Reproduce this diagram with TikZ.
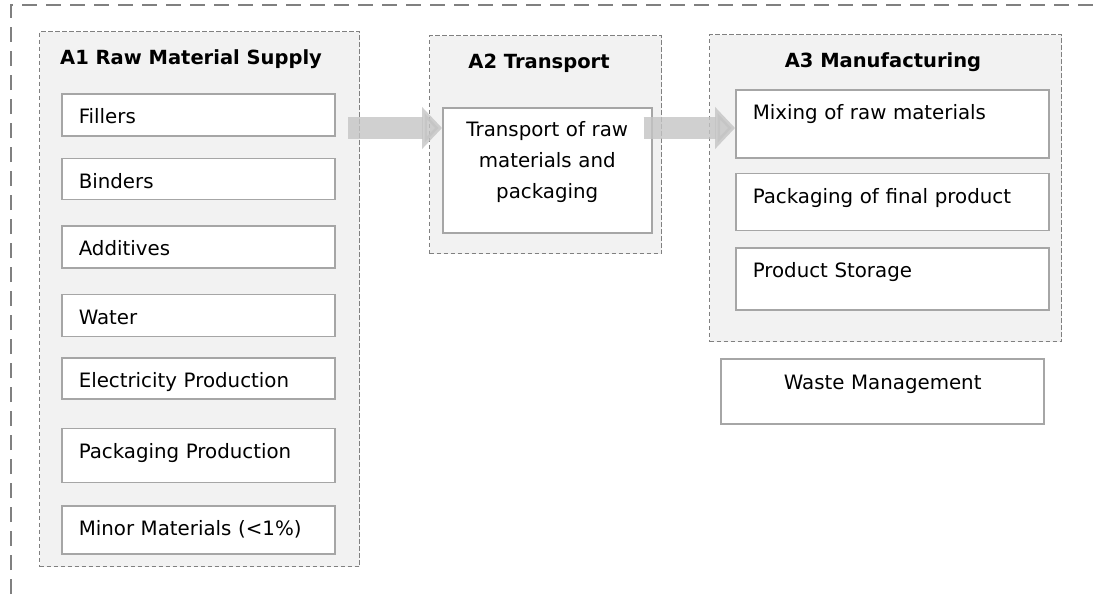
\documentclass[tikz,border=0pt]{standalone}
\usepackage{fontspec}
\setmainfont{DejaVu Sans}
\usetikzlibrary{positioning, calc, arrows.meta}
\definecolor{grpfill}{HTML}{F2F2F2}
\definecolor{grpline}{HTML}{808080}
\definecolor{boxline}{HTML}{A6A6A6}
\definecolor{flowgray}{HTML}{C4C4C4}
\tikzset{
  frame/.style={draw=grpline, line width=1.3pt, dash pattern=on 15pt off 9pt},
  group/.style={draw=grpline, fill=grpfill, line width=1.3pt,
    dash pattern=on 4.5pt off 2.5pt, inner sep=0pt, anchor=north west},
  grouptitle/.style={font=\bfseries\fontsize{19.5}{23}\selectfont, inner sep=0pt},
  item/.style={draw=boxline, fill=white, line width=1.5pt,
    font=\fontsize{19.8}{31}\selectfont, inner xsep=17pt, inner ysep=0pt,
    text height=30pt, text depth=#1, align=left},
  a1item/.style={item=#1, text width=239pt},
  a3item/.style={item=#1, text width=279pt},
  flow/.style={draw=flowgray, opacity=.8, line width=22pt,
    -{Triangle[length=20pt, width=41pt]}}
}
\begin{document}
\begin{tikzpicture}[x=1pt, y=-1pt]
  \useasboundingbox (0,0) rectangle (1097,594);
  \draw[frame] (11,594) |- (1097,5);

  % A1 raw material supply
  \node[group, minimum width=320pt, minimum height=535pt] (a1) at (39,31) {};
  \node[grouptitle, anchor=base west] (a1title) at (60,65) {A1 Raw Material Supply};
  \node[a1item=12pt, anchor=north west] (fillers) at (61,93) {Fillers};
  \node[a1item=11pt, below=21pt of fillers] (binders) {Binders};
  \node[a1item=12pt, below=25pt of binders] (additives) {Additives};
  \node[a1item=12pt, below=25pt of additives] (water) {Water};
  \node[a1item=11pt, below=20pt of water] (electricity) {Electricity Production};
  \node[a1item=24pt, below=28pt of electricity] (packprod) {Packaging Production};
  \node[a1item=18pt, below=22pt of packprod] (minor) {Minor Materials (<1\%)};

  % A2 transport
  \node[group, minimum width=232pt, minimum height=218pt] (a2) at (429,35) {};
  \node[grouptitle, anchor=base] (a2title) at (539,68) {A2 Transport};
  \node[item=96pt, text height=29pt, text width=175pt, align=center,
    anchor=north west] (trbox) at (442,107)
    {Transport of raw\\materials and\\packaging};

  % A3 manufacturing
  \node[group, minimum width=352pt, minimum height=307pt] (a3) at (709,34) {};
  \node[grouptitle, anchor=base] (a3title) at (883,67) {A3 Manufacturing};
  \node[a3item=38pt, anchor=north west] (mix) at (735,89) {Mixing of raw materials};
  \node[a3item=27pt, below=14pt of mix] (packfinal) {Packaging of final product};
  \node[a3item=32pt, below=16pt of packfinal] (storage) {Product Storage};

  \node[item=35pt, text width=289pt, align=center, below=16pt of a3,
    xshift=-3pt] (waste) {Waste Management};

  % flows
  \coordinate (flowin) at (348,128);
  \draw[flow] (flowin) -- (flowin -| trbox.west);
  \draw[flow] ($(trbox.east |- flowin)+(-9,0)$) -- (flowin -| mix.west);
\end{tikzpicture}
\end{document}
